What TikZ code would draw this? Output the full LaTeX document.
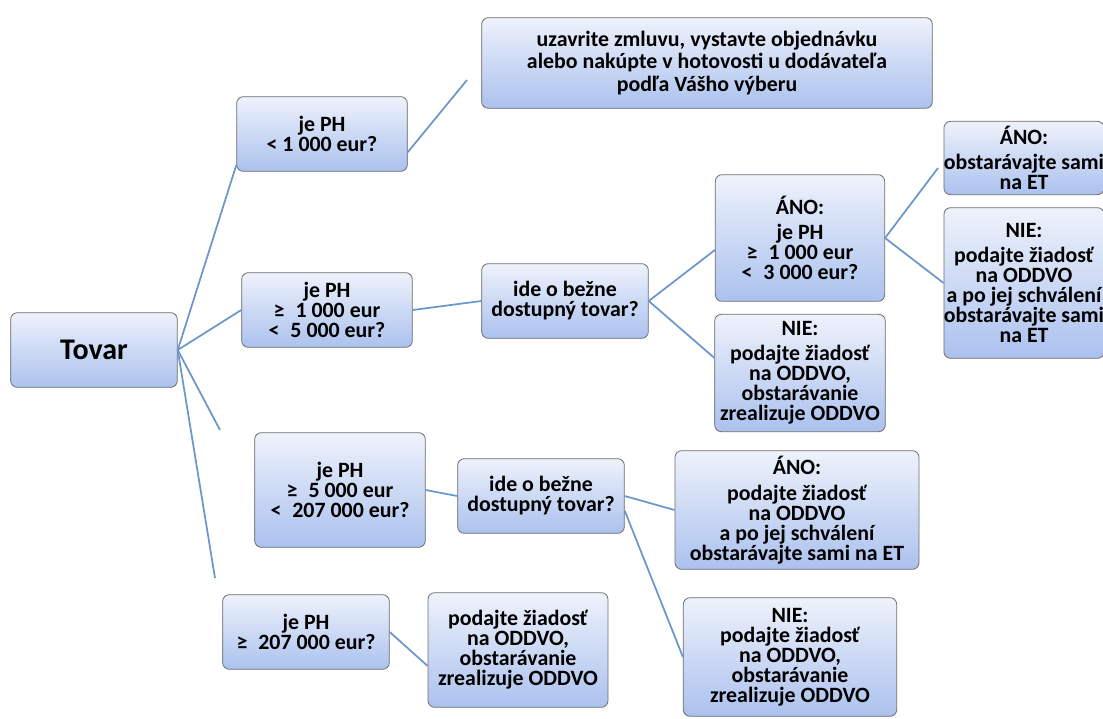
\documentclass[tikz,border=0pt]{standalone}
\usepackage{fontspec}
\setmainfont{Carlito}
\definecolor{boxtop}{HTML}{EEF2FB}
\definecolor{boxbot}{HTML}{ABC1EE}
\definecolor{boxline}{HTML}{6E6E6E}
\definecolor{wireblue}{HTML}{6A96CC}
\begin{document}
\begin{tikzpicture}[x=0.75pt,y=-0.75pt,
  every node/.style={font=\fontsize{16.4}{15}\selectfont\bfseries},
  qbox/.style={draw=boxline,line width=0.6pt,rounded corners=5pt,top color=boxtop,bottom color=boxbot,
    align=center,inner sep=0pt},
  wire/.style={draw=wireblue,line width=1.3pt}]
  \useasboundingbox (0,0) rectangle (1103,718);
  % root
  \node[qbox,minimum width=125pt,minimum height=56pt,font=\fontsize{22.5}{22.5}\selectfont\bfseries] (tovar) at (94,350) {Tovar};
  % under 1 000
  \node[qbox,minimum width=128pt,minimum height=56pt] (ph1) at (322,134) {je PH\\ < 1~000 eur?};
  \node[qbox,minimum width=338pt,minimum height=68pt,font=\fontsize{16.4}{17}\selectfont\bfseries] (zmluva) at (707,63)
    {uzavrite zmluvu, vystavte objednávku\\ alebo nakúpte v hotovosti u dodávateľa\\ podľa Vášho výberu};
  % 1 000 -- 5 000
  \node[qbox,minimum width=128pt,minimum height=56pt] (ph2) at (327,310) {je PH\\ ≥\enspace 1~000 eur\\ <\enspace 5~000 eur?};
  \node[qbox,minimum width=125pt,minimum height=56pt] (bezny1) at (565,301) {ide o bežne\\ dostupný tovar?};
  \node[qbox,minimum width=127pt,minimum height=95pt] (ano1) at (800,238) {ÁNO:\\[4pt] je PH\\ ≥\enspace 1~000 eur\\ <\enspace 3~000 eur?};
  \node[qbox,minimum width=128pt,minimum height=88pt] (nie1) at (800,373) {NIE:\\[4pt] podajte žiadosť\\ na ODDVO,\\ obstarávanie\\ zrealizuje ODDVO};
  \node[qbox,minimum width=116pt,minimum height=55pt] (ano2) at (1024,158) {ÁNO:\\[4pt] obstarávajte sami\\ na ET};
  \node[qbox,minimum width=116pt,minimum height=113pt] (nie2) at (1024,283) {NIE:\\[4pt] podajte žiadosť\\ na ODDVO\\ a po jej schválení\\ obstarávajte sami\\ na ET};
  % 5 000 -- 207 000
  \node[qbox,minimum width=128pt,minimum height=86pt] (ph3) at (340,490) {je PH\\ ≥\enspace 5~000 eur\\ <\enspace 207~000 eur?};
  \node[qbox,minimum width=125pt,minimum height=56pt] (bezny2) at (541,496) {ide o bežne\\ dostupný tovar?};
  \node[qbox,minimum width=183pt,minimum height=89pt] (ano3) at (797,510) {ÁNO:\\[4pt] podajte žiadosť\\ na ODDVO\\ a po jej schválení\\ obstarávajte sami na ET};
  \node[qbox,minimum width=160pt,minimum height=89pt] (nie3) at (790,657) {NIE:\\ podajte žiadosť\\ na ODDVO,\\ obstarávanie\\ zrealizuje ODDVO};
  % over 207 000
  \node[qbox,minimum width=125pt,minimum height=56pt] (ph4) at (306,632) {je PH\\ ≥\enspace 207~000 eur?};
  \node[qbox,minimum width=135pt,minimum height=86pt] (oddvo) at (518,650) {podajte žiadosť\\ na ODDVO,\\ obstarávanie\\ zrealizuje ODDVO};
  % loose ends
  \coordinate (end1) at (220,430);
  \coordinate (end2) at (215,578);
  \coordinate (end3) at (467,80);
  \coordinate (end4) at (938,168);
  % connectors
  \draw[wire] (tovar.east) -- (ph1.200);
  \draw[wire] (tovar.east) -- (ph2.west);
  \draw[wire] (tovar.east) -- (end1);
  \draw[wire] (tovar.east) -- (end2);
  \draw[wire] (ph1.-12) -- (end3);
  \draw[wire] (ph2.east) -- (bezny1.west);
  \draw[wire] (bezny1.east) -- (ano1.188);
  \draw[wire] (bezny1.east) -- (nie1.170);
  \draw[wire] (ano1.east) -- (end4);
  \draw[wire] (ano1.east) -- (nie2.west);
  \draw[wire] (ph3.east) -- (bezny2.west);
  \draw[wire] (bezny2.east) -- (ano3.west);
  \draw[wire] (bezny2.-10) -- (nie3.west);
  \draw[wire] (ph4.east) -- (oddvo.190);
\end{tikzpicture}
\end{document}
